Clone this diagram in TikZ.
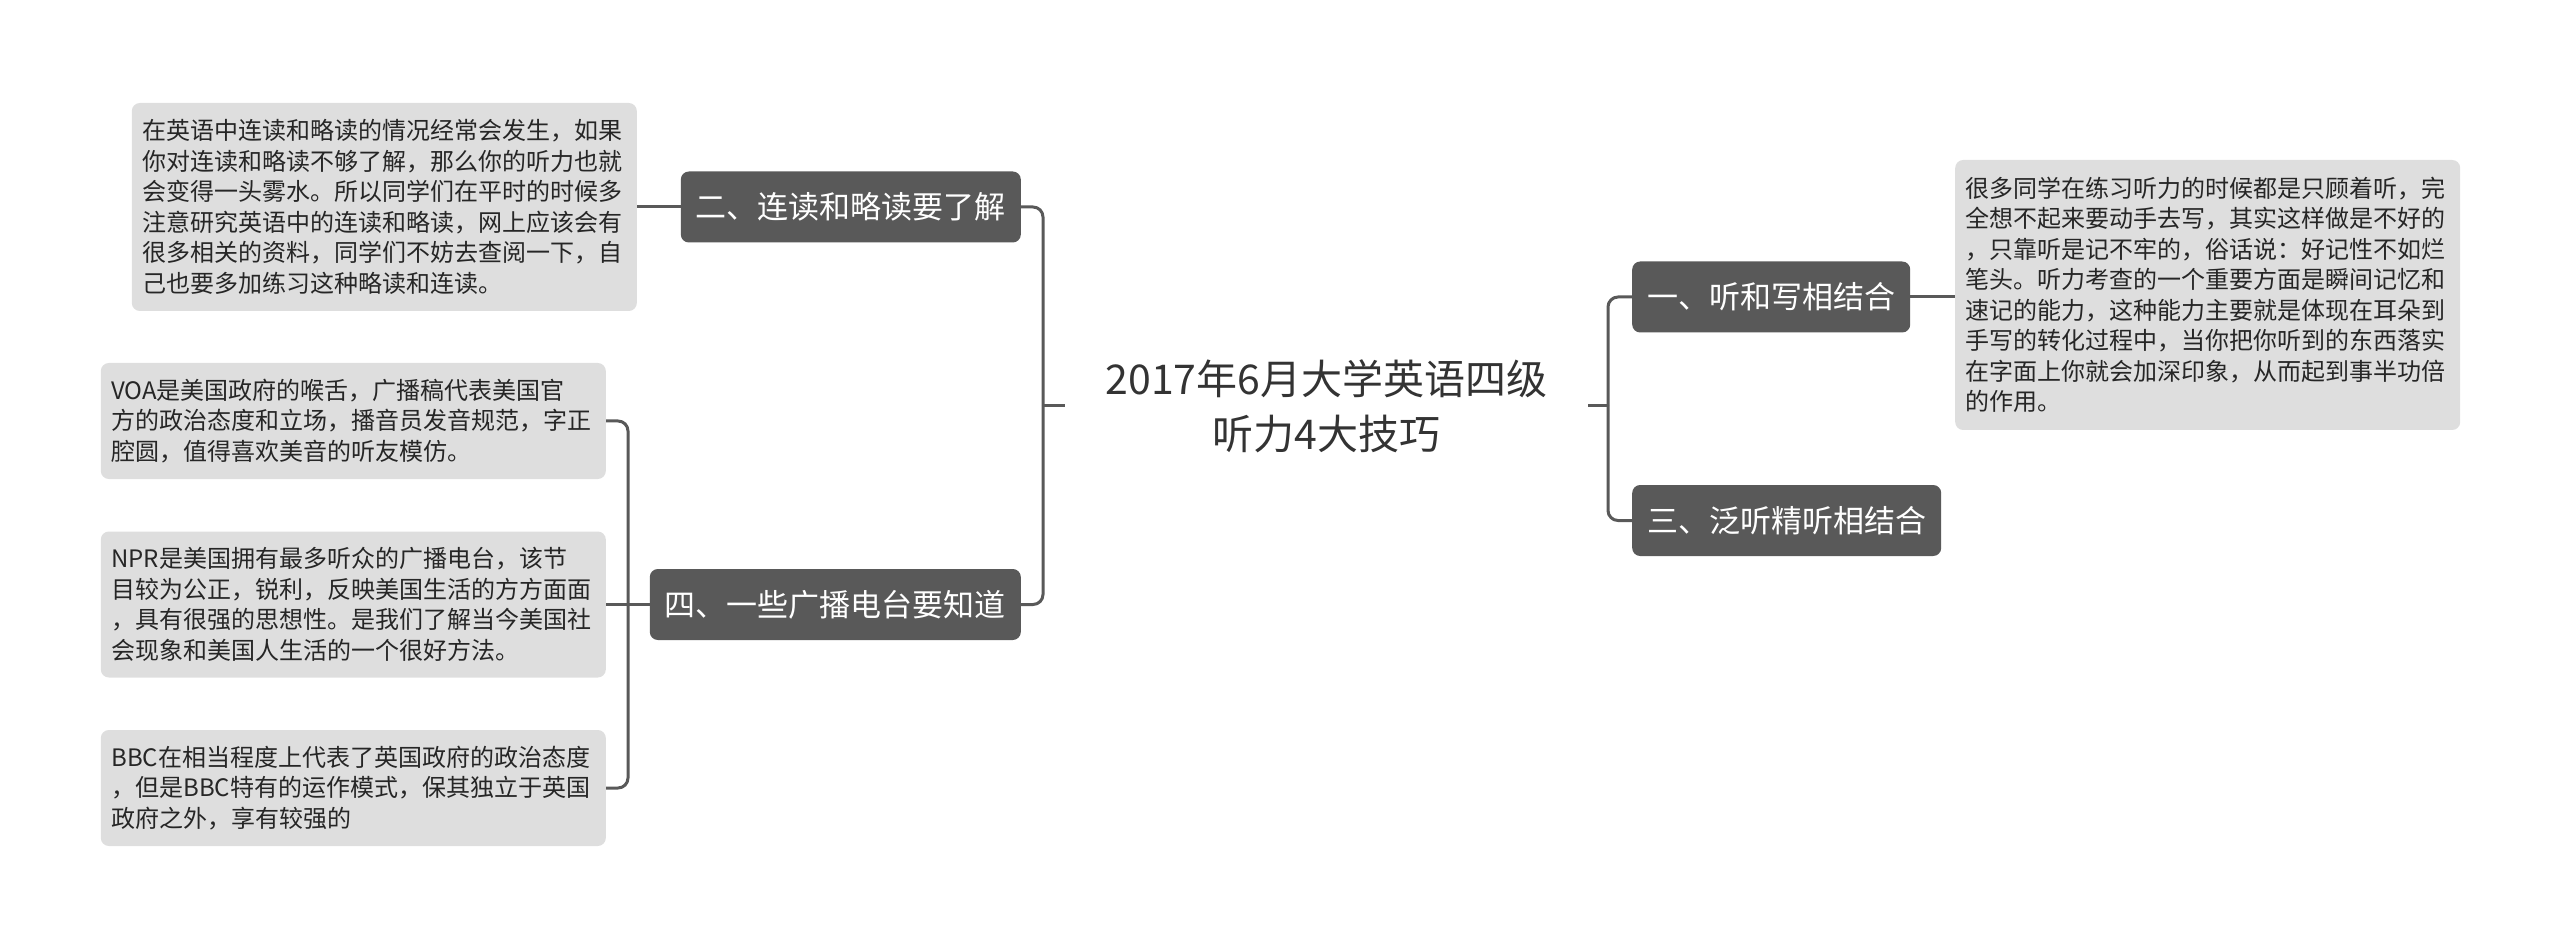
\documentclass[tikz,border=0pt]{standalone}
\usepackage{fontspec}
\setmainfont{Noto Sans CJK SC}
\definecolor{branchc}{RGB}{89,89,89}
\definecolor{leafc}{RGB}{222,222,222}
\definecolor{leaftext}{RGB}{38,38,38}
\definecolor{linec}{RGB}{89,89,89}
\definecolor{rootc}{RGB}{51,51,51}
\begin{document}
\begin{tikzpicture}[x=1pt,y=-1pt,
  branch/.style={fill=branchc, text=white, rounded corners=8pt, minimum height=71pt, inner xsep=15pt, inner ysep=0pt, font=\fontsize{31}{36}\selectfont},
  leaf/.style={fill=leafc, text=leaftext, rounded corners=8pt, text width=484pt, inner xsep=10.5pt, inner ysep=0pt, align=left, font=\fontsize{24}{30.5}\selectfont},
  rootnode/.style={text=rootc, align=center, inner sep=0pt, minimum width=523pt, font=\fontsize{41}{55}\selectfont},
  conn/.style={draw=linec, line width=3pt, rounded corners=10pt}]
\useasboundingbox (0,0) rectangle (2560,949);

\node[rootnode] (root) at (1326.5,406) {2017年6月大学英语四级\\听力4大技巧};

\node[branch, anchor=east] (n2) at (1021,207) {二、连读和略读要了解};
\node[branch, anchor=east] (n4) at (1021,604.5) {四、一些广播电台要知道};
\node[branch, anchor=west] (n1) at (1632,297) {一、听和写相结合};
\node[branch, anchor=west] (n3) at (1632,520.5) {三、泛听精听相结合};

\node[leaf, anchor=east, minimum height=208pt] (t2) at (637,207) {在英语中连读和略读的情况经常会发生，如果\\你对连读和略读不够了解，那么你的听力也就\\会变得一头雾水。所以同学们在平时的时候多\\注意研究英语中的连读和略读，网上应该会有\\很多相关的资料，同学们不妨去查阅一下，自\\己也要多加练习这种略读和连读。};
\node[leaf, anchor=east, minimum height=116pt] (voa) at (606,421) {VOA是美国政府的喉舌，广播稿代表美国官\\方的政治态度和立场，播音员发音规范，字正\\腔圆，值得喜欢美音的听友模仿。};
\node[leaf, anchor=east, minimum height=146pt] (npr) at (606,604.5) {NPR是美国拥有最多听众的广播电台，该节\\目较为公正，锐利，反映美国生活的方方面面\\，具有很强的思想性。是我们了解当今美国社\\会现象和美国人生活的一个很好方法。};
\node[leaf, anchor=east, minimum height=116pt] (bbc) at (606,788) {BBC在相当程度上代表了英国政府的政治态度\\，但是BBC特有的运作模式，保其独立于英国\\政府之外，享有较强的};
\node[leaf, anchor=west, minimum height=270pt] (t1) at (1955,295) {很多同学在练习听力的时候都是只顾着听，完\\全想不起来要动手去写，其实这样做是不好的\\，只靠听是记不牢的，俗话说：好记性不如烂\\笔头。听力考查的一个重要方面是瞬间记忆和\\速记的能力，这种能力主要就是体现在耳朵到\\手写的转化过程中，当你把你听到的东西落实\\在字面上你就会加深印象，从而起到事半功倍\\的作用。};

\coordinate (jl) at (1043,406);
\coordinate (jr) at (1608,406);
\coordinate (j4) at (628,604.5);

\draw[conn] (root.west) -- (jl);
\draw[conn] (n2.east) -| (jl);
\draw[conn] (n4.east) -| (jl);
\draw[conn] (root.east) -- (jr);
\draw[conn] (n1.west) -| (jr);
\draw[conn] (n3.west) -| (jr);

\draw[conn] (n2.west) -- (t2.east);
\draw[conn] (n1.east) -- (t1.west |- n1.east);
\draw[conn] (n4.west) -- (npr.east);
\draw[conn] (voa.east) -| (j4);
\draw[conn] (bbc.east) -| (j4);
\end{tikzpicture}
\end{document}
